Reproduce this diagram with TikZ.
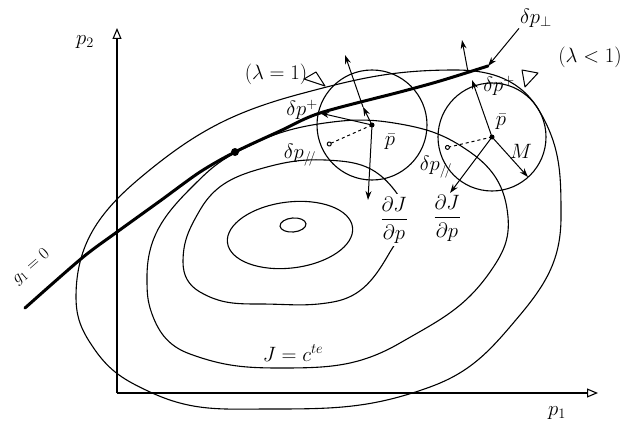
\documentclass[tikz,border=0pt]{standalone}
\usetikzlibrary{arrows.meta,calc}
\usepackage{amsmath,amssymb}

\begin{document}
\begin{tikzpicture}[x=1pt, y=1pt, font=\huge,
  >={Stealth[length=9pt,width=6pt]},
  every node/.style={inner sep=1pt},
  contour/.style={line width=1.1pt},
  gline/.style={line width=3pt, line cap=round},
  vec/.style={->, line width=1pt},
  axis/.style={-{Triangle[open,length=11pt,width=9pt]}, line width=1.1pt},
  marker/.style={line width=1pt, line join=round}]
  \useasboundingbox (0,0) rectangle (634,432);
  %% Axes
  \coordinate (O) at (117,39);
  \coordinate (xend) at (598,39);
  \coordinate (yend) at (117,404);
  \draw[axis] (O) -- (xend);
  \draw[axis] (O) -- (yend);
  \node (p1lab) at (557,19) {$p_1$};
  \node (p2lab) at (85,390) {$p_2$};
  %% Level curves J = const
  \draw[contour] (76,135) to[out=90,in=220] (140,254) to[out=40,in=195] (300,338)
    to[out=15,in=180] (455,362) to[out=0,in=120] (540,320) to[out=-60,in=90] (561,215)
    to[out=-90,in=50] (520,117) to[out=-130,in=20] (430,45) to[out=-160,in=0] (270,23)
    to[out=180,in=-25] (150,40) to[out=155,in=-55] (95,82) to[out=125,in=-90] (76,135);
  \draw[contour] (147,155) to[out=90,in=225] (190,243) to[out=45,in=208] (235,279)
    to[out=28,in=188] (325,309) to[out=8,in=170] (400,308) to[out=-10,in=145] (470,280)
    to[out=-35,in=95] (508,215) to[out=-85,in=55] (490,160) to[out=-125,in=30] (400,89)
    to[out=-150,in=0] (280,64) to[out=180,in=-20] (190,78) to[out=160,in=-70] (152,118)
    to[out=110,in=-90] (147,155);
  \draw[contour] (183,170) to[out=90,in=240] (200,222) to[out=60,in=195] (267,265)
    to[out=15,in=175] (340,271) to[out=-5,in=130] (392,245) to[out=-50,in=90] (405,212)
    to[out=-90,in=60] (390,180) to[out=-120,in=10] (333,130) to[out=-170,in=0] (260,128)
    to[out=180,in=-30] (200,140) to[out=150,in=-90] (183,170);
  \draw[contour, rotate around={7:(290,197)}] (290,197) ellipse[x radius=63, y radius=33];
  \draw[contour, rotate around={5:(293,207)}] (293,207) ellipse[x radius=13, y radius=7];
  \node (Jlab) at (293,79) {$J=c^{te}$};
  %% Constraint g1 = 0
  \draw[gline] plot[smooth, tension=0.5] coordinates {
    (25,124) (82,174) (117,200) (160,231) (200,260) (235,280) (280,301)
    (320,319) (400,340) (440,351) (488,366)};
  \fill (235,280) circle[radius=4];
  \node[rotate=41, font=\LARGE] (glab) at (31,165) {$g_1=0$};
  %% Case lambda = 1
  \coordinate (pbarL) at (372,307);
  \coordinate (qL) at (320,319);
  \coordinate (mL) at (363,325);
  \coordinate (upL) at (345,377);
  \coordinate (gradL) at (368,232);
  \coordinate (parL) at (327,287);
  \draw[contour] (pbarL) circle[radius=55];
  \draw[vec] (pbarL) -- (qL);
  \draw[vec] (pbarL) -- (mL);
  \draw[vec] (mL) -- (upL);
  \draw[vec] (pbarL) -- (gradL);
  \draw[line width=1pt, dashed, -{Circle[open,length=5pt]}] (pbarL) -- (parL);
  \fill (pbarL) circle[radius=2.5];
  \draw[marker] (304,353) -- (316,360) -- (325,346) -- cycle;
  \node (lam1) at (276,358) {$(\lambda=1)$};
  \node (dppL) at (302,322) {$\delta p^+$};
  \node (dpparL) at (300,277) {$\delta p_{/\!/}$};
  \node (pbarLlab) at (390,290) {$\bar p$};
  \node[fill=white, inner sep=3pt] (dJL) at (394,212) {$\dfrac{\partial J}{\partial p}$};
  %% Case lambda < 1
  \coordinate (pbarR) at (492,295);
  \coordinate (qR) at (472,352);
  \coordinate (nR) at (468,360);
  \coordinate (upR) at (462,392);
  \coordinate (tipR) at (488,366);
  \coordinate (radR) at (528,255);
  \coordinate (gradR) at (450,239);
  \coordinate (parR) at (445,284);
  \draw[contour] (pbarR) circle[radius=54];
  \draw[vec] (pbarR) -- (qR);
  \draw[vec] (nR) -- (upR);
  \draw[vec] (pbarR) -- (radR);
  \draw[vec] (pbarR) -- (gradR);
  \draw[line width=1pt, dashed, -{Circle[open,length=5pt]}] (pbarR) -- (parR);
  \fill (pbarR) circle[radius=2.5];
  \draw[marker] (522,362) -- (538,359) -- (525,345) -- cycle;
  \node (lam2) at (590,375) {$(\lambda<1)$};
  \node (dpperp) at (536,414) {$\delta p_\perp$};
  \draw[vec] (dpperp.south west) -- (tipR);
  \node (dppR) at (499,346) {$\delta p^+$};
  \node (pbarRlab) at (501,310) {$\bar p$};
  \node (Mlab) at (521,281) {$M$};
  \node (dpparR) at (436,265) {$\delta p_{/\!/}$};
  \node (dJR) at (447,214) {$\dfrac{\partial J}{\partial p}$};
\end{tikzpicture}
\end{document}
